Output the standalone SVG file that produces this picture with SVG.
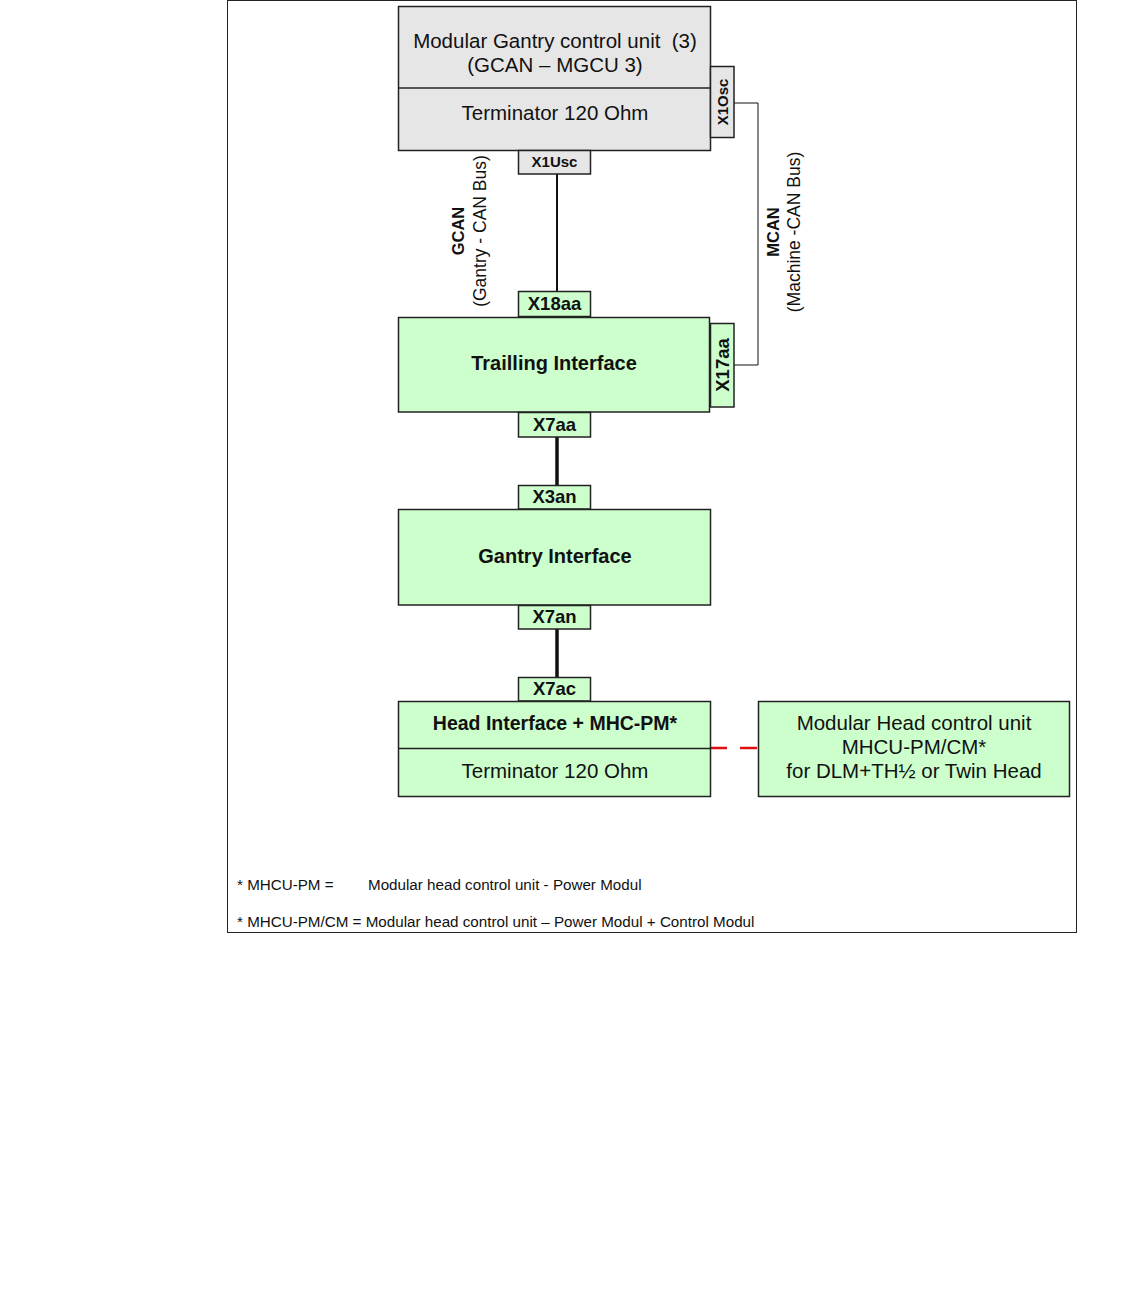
<svg xmlns="http://www.w3.org/2000/svg" width="1134" height="1290" viewBox="0 0 1134 1290">
<style>
.box{stroke:#222;stroke-width:1.5}
.g{fill:#e6e6e6}
.n{fill:#ccffcc}
.t{font-family:"Liberation Sans",Arial,sans-serif;fill:#111;text-anchor:middle}
.r{font-size:20.5px}
.b{font-size:20px;font-weight:bold}
.c{font-size:18.5px;font-weight:bold}
.lb{font-size:16.5px;font-weight:bold}
.cs{font-size:15px;font-weight:bold}
.f{font-family:"Liberation Sans",Arial,sans-serif;font-size:15.2px;fill:#111}
.w{fill:none;stroke:#111}
</style>
<rect width="1134" height="1290" fill="#fff"/>
<rect x="227.5" y="0.5" width="849" height="932" fill="none" stroke="#222" stroke-width="1"/>
<g id="connectors">
<line class="w" x1="557" y1="174" x2="557" y2="291" stroke-width="2"/>
<polyline class="w" points="734,103 758,103 758,365 734,365" stroke-width="1"/>
<line class="w" x1="557" y1="437" x2="557" y2="485" stroke-width="3.5"/>
<line class="w" x1="557" y1="629" x2="557" y2="677" stroke-width="3.5"/>
<line x1="710" y1="748" x2="758" y2="748" stroke="#e01010" stroke-width="2.5" stroke-dasharray="17,13"/>
</g>
<g id="mgcu">
<rect class="box g" x="398.5" y="6.5" width="312" height="144"/>
<line class="box" x1="398.5" y1="88" x2="710.5" y2="88"/>
<text class="t r" x="555" y="48" xml:space="preserve">Modular Gantry control unit  (3)</text>
<text class="t r" x="555" y="72">(GCAN – MGCU 3)</text>
<text class="t r" x="555" y="120">Terminator 120 Ohm</text>
</g>
<g id="x1osc">
<rect class="box g" x="710.5" y="66.5" width="23.5" height="71"/>
<text class="t cs" transform="translate(728,102) rotate(-90)">X1Osc</text>
</g>
<g id="x1usc">
<rect class="box g" x="518.5" y="150.5" width="72" height="23.5"/>
<text class="t cs" x="554.5" y="167">X1Usc</text>
</g>
<g id="gcan-label">
<text class="t lb" transform="translate(464,231) rotate(-90)">GCAN</text>
<text class="t" style="font-size:17.5px" transform="translate(486,231) rotate(-90)">(Gantry - CAN Bus)</text>
</g>
<g id="mcan-label">
<text class="t lb" transform="translate(779,232) rotate(-90)">MCAN</text>
<text class="t" style="font-size:17.5px" transform="translate(800,232) rotate(-90)">(Machine -CAN Bus)</text>
</g>
<g id="x18aa">
<rect class="box n" x="518.5" y="291.5" width="72" height="25"/>
<text class="t c" x="554.5" y="310">X18aa</text>
</g>
<g id="trailling">
<rect class="box n" x="398.5" y="317.5" width="311" height="94.5"/>
<text class="t b" x="554" y="370">Trailling Interface</text>
</g>
<g id="x17aa">
<rect class="box n" x="710.5" y="323.5" width="23.5" height="83.5"/>
<text class="t c" transform="translate(729,365) rotate(-90)">X17aa</text>
</g>
<g id="x7aa">
<rect class="box n" x="518.5" y="412.5" width="72" height="24.5"/>
<text class="t c" x="554.5" y="431">X7aa</text>
</g>
<g id="x3an">
<rect class="box n" x="518.5" y="485.5" width="72" height="23.5"/>
<text class="t c" x="554.5" y="503">X3an</text>
</g>
<g id="gantry">
<rect class="box n" x="398.5" y="509.5" width="312" height="95.5"/>
<text class="t b" x="555" y="563">Gantry Interface</text>
</g>
<g id="x7an">
<rect class="box n" x="518.5" y="605.5" width="72" height="23.5"/>
<text class="t c" x="554.5" y="623">X7an</text>
</g>
<g id="x7ac">
<rect class="box n" x="518.5" y="677.5" width="72" height="23.5"/>
<text class="t c" x="554.5" y="695">X7ac</text>
</g>
<g id="head">
<rect class="box n" x="398.5" y="701.5" width="312" height="95"/>
<line class="box" x1="398.5" y1="748.5" x2="710.5" y2="748.5"/>
<text class="t" style="font-size:19.5px;font-weight:bold" x="555" y="730">Head Interface + MHC-PM*</text>
<text class="t r" x="555" y="778">Terminator 120 Ohm</text>
</g>
<g id="mhcu">
<rect class="box n" x="758.5" y="701.5" width="311" height="95"/>
<text class="t r" x="914" y="730">Modular Head control unit</text>
<text class="t r" x="914" y="754">MHCU-PM/CM*</text>
<text class="t r" x="914" y="778">for DLM+TH½ or Twin Head</text>
</g>
<g id="notes">
<text class="f" x="237" y="890">* MHCU-PM =</text>
<text class="f" x="368" y="890">Modular head control unit - Power Modul</text>
<text class="f" x="237" y="927">* MHCU-PM/CM = Modular head control unit – Power Modul + Control Modul</text>
</g>
</svg>
